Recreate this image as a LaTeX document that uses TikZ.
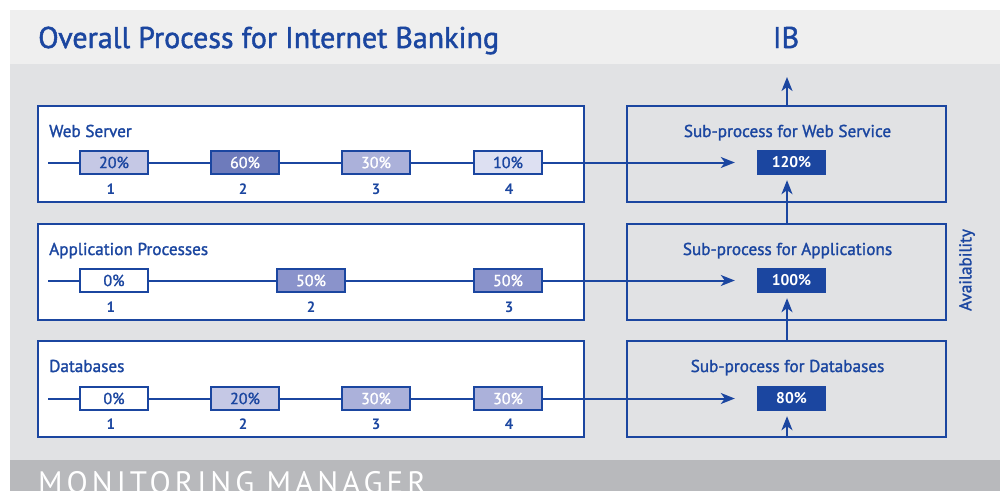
\documentclass[tikz,border=0pt]{standalone}
\usepackage{fontspec}
\setmainfont{PT Sans}
\newfontfamily\medfont{PT Sans}[FakeBold=1.5]
\newfontfamily\spacedfont{PT Sans}[LetterSpace=13]
\usetikzlibrary{arrows.meta}
\definecolor{ib}{HTML}{1B46A0}
\definecolor{bgtop}{HTML}{EFEFEF}
\definecolor{bgmain}{HTML}{E1E2E4}
\definecolor{bgbot}{HTML}{B8B9BC}
\definecolor{fA}{HTML}{C5C8E5}
\definecolor{fB}{HTML}{6E7BBB}
\definecolor{fC}{HTML}{ABB1DA}
\definecolor{fD}{HTML}{DDE0F2}
\definecolor{fE}{HTML}{8A93CB}
\tikzset{
  grp/.style={draw=ib, line width=2.5pt, fill=white, minimum width=546pt, minimum height=96pt, inner sep=0pt},
  subbox/.style={draw=ib, line width=2.5pt, minimum width=319pt, minimum height=96pt, inner sep=0pt},
  pct/.style={draw=ib, line width=1.5pt, minimum width=68pt, minimum height=23pt, inner sep=0pt, font=\medfont\fontsize{16}{16}\selectfont},
  res/.style={fill=ib, text=white, minimum width=69pt, minimum height=25pt, inner sep=0pt, font=\bfseries\fontsize{15.5}{15}\selectfont},
  lbl/.style={text=ib, inner sep=0pt, font=\medfont\fontsize{17.2}{17}\selectfont},
  num/.style={text=ib, inner sep=0pt, font=\bfseries\fontsize{15}{15}\selectfont},
  conn/.style={draw=ib, line width=2pt},
  arr/.style={conn, -{Stealth[length=14pt,width=11pt,inset=4pt]}},
}
\begin{document}
\begin{tikzpicture}[x=1pt,y=-1pt]
\useasboundingbox (0,0) rectangle (1000,491);
\begin{scope}
\clip (0,0) rectangle (1000,491);
\fill[white] (0,0) rectangle (1000,491);
\fill[bgtop] (10,10) rectangle (1000,64);
\fill[bgmain] (10,64) rectangle (1000,460);
\fill[bgbot] (10,460) rectangle (1000,491);
\node[anchor=base west, text=white, inner sep=0pt, font=\spacedfont\fontsize{31}{31}\selectfont] (mm) at (38,493) {MONITORING MANAGER};
\end{scope}

\node[anchor=base west, text=ib, inner sep=0pt, font=\medfont\fontsize{30}{30}\selectfont] (title) at (38,48) {Overall Process for Internet Banking};
\node[anchor=base, text=ib, inner sep=0pt, font=\medfont\fontsize{30}{30}\selectfont] (ib) at (786,48) {IB};

% group boxes
\node[grp] (g1) at (311,154) {};
\node[grp] (g2) at (311,272) {};
\node[grp] (g3) at (311,389) {};
\node[subbox] (rb1) at (786.5,154) {};
\node[subbox] (rb2) at (786.5,272) {};
\node[subbox] (rb3) at (786.5,389) {};

\node[lbl, anchor=base west] (l1) at (49,137) {Web Server};
\node[lbl, anchor=base west] (l2) at (49,255) {Application Processes};
\node[lbl, anchor=base west] (l3) at (49,372) {Databases};

\node[lbl, anchor=base] (s1) at (787.5,137) {Sub-process for Web Service};
\node[lbl, anchor=base] (s2) at (787.5,255) {Sub-process for Applications};
\node[lbl, anchor=base] (s3) at (787.5,372) {Sub-process for Databases};

% result boxes
\node[res] (r1) at (791.5,162.5) {120\%};
\node[res] (r2) at (791.5,280.5) {100\%};
\node[res] (r3) at (791.5,398.5) {80\%};

% line starts
\coordinate (a1) at (48,162.5);
\coordinate (a2) at (48,280.5);
\coordinate (a3) at (48,398.5);
\draw[arr, shorten >=22pt] (a1) -- (r1.west);
\draw[arr, shorten >=22pt] (a2) -- (r2.west);
\draw[arr, shorten >=22pt] (a3) -- (r3.west);

% row 1
\node[pct, fill=fA, text=ib] (p11) at (114,162.5) {20\%};
\node[pct, fill=fB, text=white] (p12) at (245,162.5) {60\%};
\node[pct, fill=fC, text=white] (p13) at (376,162.5) {30\%};
\node[pct, fill=fD, text=ib] (p14) at (508,162.5) {10\%};
% row 2
\node[pct, fill=white, text=ib] (p21) at (114,280.5) {0\%};
\node[pct, fill=fE, text=white] (p22) at (311,280.5) {50\%};
\node[pct, fill=fE, text=white] (p23) at (508,280.5) {50\%};
% row 3
\node[pct, fill=white, text=ib] (p31) at (114,398.5) {0\%};
\node[pct, fill=fA, text=ib] (p32) at (245,398.5) {20\%};
\node[pct, fill=fC, text=white] (p33) at (376,398.5) {30\%};
\node[pct, fill=fC, text=white] (p34) at (508,398.5) {30\%};

% numbers
\node[num] (n11) at (111,189) {1};
\node[num] (n12) at (243,189) {2};
\node[num] (n13) at (376,189) {3};
\node[num] (n14) at (509,189) {4};
\node[num] (n21) at (111,307) {1};
\node[num] (n22) at (311,307) {2};
\node[num] (n23) at (509,307) {3};
\node[num] (n31) at (111,424) {1};
\node[num] (n32) at (243,424) {2};
\node[num] (n33) at (376,424) {3};
\node[num] (n34) at (509,424) {4};

% vertical arrows
\coordinate (ibtip) at (787,77);
\draw[arr] (rb1.north -| ibtip) -- (ibtip);
\draw[arr, shorten >=5pt] (rb2.north -| ibtip) -- (r1.south -| ibtip);
\draw[arr, shorten >=5pt] (rb3.north -| ibtip) -- (r2.south -| ibtip);
\draw[arr, shorten >=5pt] (rb3.south -| ibtip) -- (r3.south -| ibtip);

\node[lbl, rotate=90] (av) at (967,270) {Availability};
\end{tikzpicture}
\end{document}
